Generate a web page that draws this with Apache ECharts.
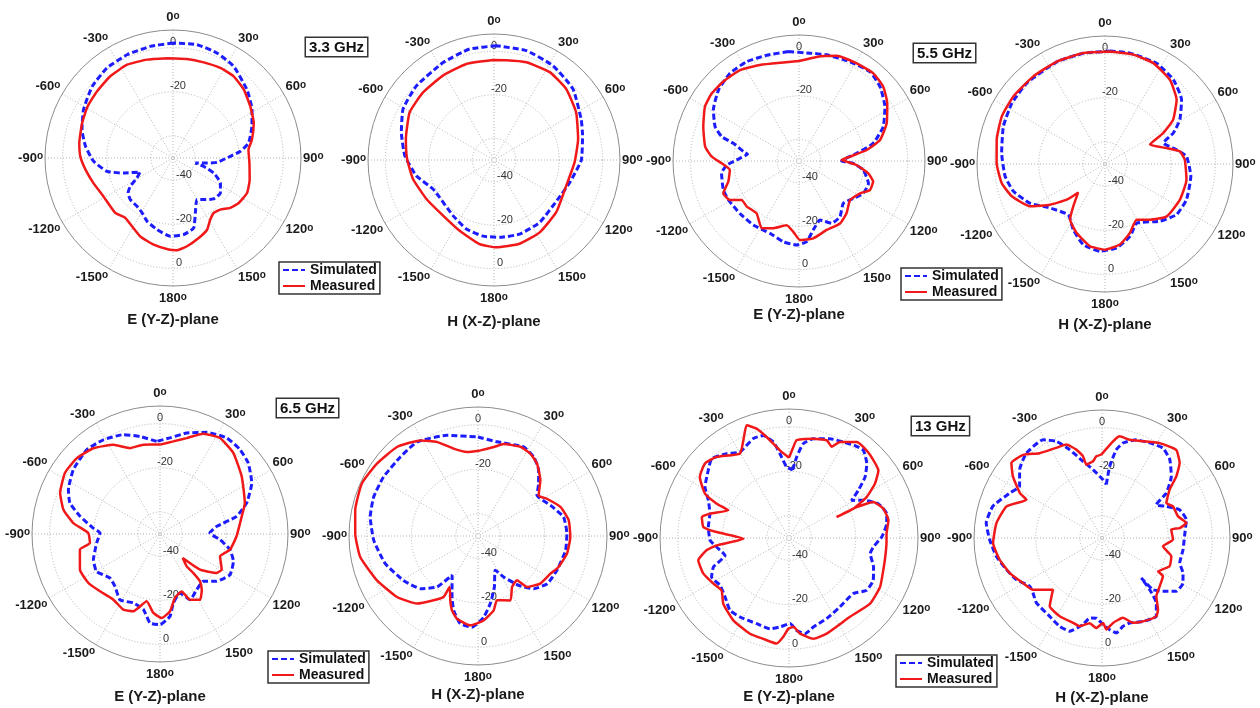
<!DOCTYPE html>
<html>
<head>
<meta charset="utf-8">
<script src="https://cdn.jsdelivr.net/npm/echarts@6/dist/echarts.min.js"></script>
<style>
  html, body { margin: 0; padding: 0; background: #fff; }
  #chart { width: 1260px; height: 708px; }
</style>
</head>
<body>
<div id="chart"></div>
<script>
// Radiation patterns: [angle in degrees, gain in dB], traced in drawing order.
const e33Sim = [[0,2.1],[-11.5,1.6],[-24,1.2],[-36.3,0.6],[-48.5,-1.1],[-61.6,-3.9],[-72.7,-6.8],[-82.4,-10],[-92.4,-14],[-101.4,-19.5],[-107,-26.6],[-113,-33.8],[-119,-31.3],[-123.6,-26.7],[-127.9,-24.2],[-134.3,-23],[-143.3,-22.7],[-150.6,-21.5],[-157.7,-19],[-167.4,-16.8],[-178,-14.5],[172,-15],[163.6,-16.9],[157.9,-23.1],[150,-28.3],[143.6,-26.6],[135.2,-23.9],[126.5,-23.3],[117.8,-25.7],[110.2,-30.4],[105.2,-35.7],[102.6,-39.6],[98.4,-34.4],[95.6,-29.9],[88.3,-24],[84.3,-19.3],[78.8,-15.1],[68.2,-11.5],[58.5,-8],[47.3,-4.4],[33.5,-0.2],[22.7,1.6],[12,2.5]];
const e33Meas = [[-3.4,-4.7],[-14.8,-3.9],[-26.2,-2.9],[-37.5,-3.3],[-48.7,-4.2],[-58.8,-4.8],[-69,-5.9],[-80.9,-7],[-89,-8],[-97.6,-10],[-107.5,-12.2],[-118.9,-14],[-133.6,-13.9],[-141.5,-15.3],[-149,-13.9],[-157.4,-11.5],[-167.4,-9.8],[-177.3,-8.5],[177.5,-8.2],[171,-9.5],[162.2,-11.9],[154.6,-14],[148.8,-17.4],[143.5,-19],[137.5,-18.3],[131.1,-15.6],[124.4,-13.9],[115.3,-12.9],[105.8,-13.9],[93.7,-15.3],[83.7,-15.6],[77,-13.3],[66.5,-10.1],[56.3,-7.9],[46,-5.4],[36.6,-3.9],[27.7,-3.9],[17.8,-4.5],[8,-4.7]];

const h33Sim = [[1.2,2.6],[-12.4,2.3],[-27.6,0.6],[-46.3,-0.6],[-60.7,-2],[-73.4,-5.5],[-87.2,-8.9],[-101.4,-13.5],[-115.4,-18.9],[-124.5,-19.6],[-143.6,-18.2],[-158.1,-15.8],[-171.8,-14.6],[175.8,-14.3],[160.9,-13.9],[143.8,-14.4],[121.4,-15.5],[106.4,-13.6],[90,-9.8],[74,-7.6],[64.9,-5.7],[48,-1.1],[32,1.2],[16.5,2.5]];
const h33Meas = [[-0.6,-4],[-16.1,-4],[-31.2,-4.6],[-46.4,-4.9],[-60.5,-5.4],[-76.6,-8.3],[-89.3,-10],[-103.2,-11.7],[-120,-14.1],[-137.5,-15.3],[-154.1,-13.8],[-170.3,-10.7],[178.5,-9.8],[163,-9.7],[147.7,-10.6],[130,-12.6],[109.5,-14.7],[91.7,-12.9],[76,-10.1],[59.9,-6.3],[45.5,-3.4],[32.4,-2.1],[18.3,-2.6],[7,-3.7]];

const e55Sim = [[-5.6,0.6],[-17,0.9],[-27.8,1.7],[-38.2,1.4],[-48.6,-0.6],[-59.2,-4.1],[-67.8,-8.3],[-72.5,-12.7],[-74.9,-18.7],[-80.5,-24.1],[-82.3,-26.1],[-89,-21.3],[-93.2,-16.7],[-99,-13.9],[-111,-12.7],[-118.9,-12.9],[-131.6,-13.6],[-144.5,-13.8],[-158.2,-14.1],[-169,-12.1],[-178.4,-11.3],[174.6,-12.7],[168.3,-17.6],[160.4,-21.2],[152.3,-17.6],[143.6,-18.2],[133.7,-21.8],[124.5,-19.6],[116.7,-16.9],[107.9,-16.4],[98,-20.1],[92.5,-25],[90,-30.4],[82.4,-23.2],[76.6,-14.9],[67.8,-8.1],[57.7,-3.2],[47.5,0.6],[38.5,2.5],[27.2,1.4],[14.6,0.5],[5.8,-0.1]];
const e55Meas = [[0,-4],[-9,-4.1],[-22.1,-2.3],[-33,-0.1],[-43.6,0.5],[-52.2,0.8],[-60,0],[-70.3,-3.2],[-81.3,-6.3],[-87.2,-9.8],[-91.7,-14.4],[-97.4,-17.9],[-106.3,-16.1],[-113.1,-12.1],[-119.5,-13.5],[-124.2,-18.1],[-131.1,-18.1],[-141,-19],[-151,-14.6],[-159.1,-16.9],[-169.1,-19.9],[-175.4,-17.3],[179.3,-13.6],[169.5,-13.8],[158.1,-15.8],[146.7,-15.6],[137.7,-17.5],[127.4,-20.4],[117.9,-18.2],[112.2,-14.7],[105.5,-14.6],[100.1,-17.6],[94,-23.5],[90.8,-28.1],[88.7,-30.4],[85.1,-26.4],[80.8,-18.4],[75.5,-11.5],[66.8,-6.1],[56.9,-1.5],[48.6,1.7],[40.3,2.9],[30.6,2.2],[19.7,1.4],[9.6,-1.4]];

const h55Sim = [[2.5,1.2],[12.7,1.5],[27.1,1.3],[39,-0.8],[50,-4.7],[59.4,-10.6],[65.6,-16],[70.2,-21.9],[78.7,-16.9],[84.6,-12.9],[98.2,-10.7],[113.6,-9.7],[125.3,-10.3],[136.2,-14.1],[151.8,-19.6],[160.9,-15.3],[172.1,-11.6],[-176.7,-10.4],[-165,-12.1],[-154.3,-16.9],[-144.1,-21.6],[-128.7,-18.1],[-117.5,-11.6],[-106.6,-6.7],[-97,-4.4],[-83.9,-2.9],[-69.7,-0.9],[-56.8,0.4],[-44,1],[-25,1.2],[-11,1.1]];
const h55Meas = [[2.5,1],[-11,1.2],[-25.2,1.3],[-39.3,1.3],[-53.6,1.6],[-65.2,1.5],[-77.3,0.3],[-89.5,-0.9],[-100.4,-2.4],[-109.1,-5.3],[-119.4,-11],[-126.5,-19],[-132.9,-26.3],[-136.7,-32.3],[-143.2,-26],[-147.8,-20.3],[-157.7,-16.2],[-169.7,-12.1],[180,-11.2],[169.5,-12.9],[160.1,-16.8],[150.4,-21],[141,-17.5],[130.3,-13.3],[115.4,-12.4],[100.9,-12.4],[86.9,-13.8],[80.4,-15.6],[75.5,-21.2],[66.7,-27.8],[62,-20.1],[57,-13.2],[48.1,-6.4],[37.6,-1.8],[25.6,0.7],[14.5,1.2]];

const e65Sim = [[-2.1,-8],[-11.6,-4.9],[-20.3,-2],[-31,-0.2],[-41,0.6],[-53.4,-1.1],[-64.2,-3.9],[-71,-6.8],[-77.5,-12.9],[-84.9,-19.6],[-89,-22.8],[-98.1,-21],[-111,-17.7],[-120.5,-16.6],[-131.3,-19.8],[-139.3,-18.7],[-148.7,-15.1],[-158.9,-16.5],[-167.6,-15],[-173.6,-9.4],[180,-8.9],[173.1,-12.4],[169.1,-18.1],[161.3,-21.8],[155.4,-17.2],[146.6,-19.8],[137.5,-20.9],[129.9,-16.6],[120.2,-13.3],[110.4,-14.5],[102.6,-17.5],[95.4,-22.7],[88.9,-27.4],[82.3,-24],[77,-14.4],[70.3,-8.3],[60.9,-2.4],[51.2,1.3],[43.5,2.7],[34.8,3],[24.7,0.7],[14.8,-2.7],[5.9,-6.2]];
const e65Meas = [[0,-9.5],[8.2,-7.6],[15.5,-4.9],[23.4,-0.5],[32,1.3],[42.2,-0.5],[54.8,-4.7],[70,-9.1],[77.8,-12.1],[91.7,-15.3],[102.6,-17.5],[110.4,-21],[120,-17.7],[124.5,-18.9],[131.7,-25.7],[136.6,-35],[140.5,-31],[139.5,-26.7],[139.8,-21.9],[143.2,-18.4],[148.7,-15.1],[155.4,-17.2],[159.3,-22.2],[166.8,-20.3],[172.6,-14.7],[178.9,-11.9],[-175.2,-14.1],[-168.8,-18.9],[-161,-13],[-154.1,-11.9],[-144.6,-13.5],[-133.7,-12.4],[-124.4,-10.7],[-114,-10.3],[-101.1,-13],[-97.3,-18],[-89.2,-17.5],[-82.8,-10.4],[-75.9,-4.9],[-67.7,-1.1],[-57.3,1.2],[-47.6,1],[-37.8,-0.8],[-27.6,-4.4],[-19.2,-8.8],[-10.6,-8.8]];

const h65Sim = [[0,-5.5],[11.4,-6.8],[27.2,-5],[35.2,-6.5],[42.7,-9.8],[49.2,-14],[55.4,-17.8],[67,-14.6],[77.5,-10.6],[88.5,-10],[99.3,-10.1],[113.5,-11.3],[124.6,-12.2],[133.4,-15.5],[140.5,-21.2],[148,-28.3],[153.2,-32.8],[162.2,-25.9],[169.7,-19.1],[176,-13.4],[-176.2,-8.9],[-168.6,-9.8],[-161.9,-14.8],[-156.9,-20.2],[-146.5,-28.9],[-141.2,-20.6],[-132.4,-14.9],[-120.8,-11],[-106.6,-6.5],[-92.4,-3.1],[-80,-0.8],[-69.5,0.1],[-58,0.1],[-44.5,-0.2],[-33,0.4],[-17.1,-2.6]];
const h65Meas = [[1.6,-11.5],[10,-9.4],[15.6,-7.1],[25.4,-5.6],[32.4,-6.1],[39.2,-8],[48.2,-12.4],[56.2,-17.2],[61.6,-14.8],[70.6,-10.7],[80.2,-8.6],[90.6,-8.5],[101.2,-9.2],[111,-11.2],[117.5,-13.3],[127.4,-14.8],[136.1,-18.2],[138.7,-23.5],[146.3,-22.4],[153.3,-17.6],[163.5,-19.9],[168.1,-15.8],[176.2,-11.9],[-175.1,-9.7],[-165.7,-11.6],[-160.7,-14.6],[-156.7,-18.5],[-150.9,-23.8],[-150.6,-18.5],[-145.4,-14.9],[-138,-9.1],[-127,-4.4],[-113.7,-0.4],[-100.1,3.8],[-88.9,5.2],[-78.2,6.4],[-65.7,7.3],[-54.4,5.9],[-42.3,4.1],[-31.1,0.2],[-23.6,-3.8],[-15.6,-9.2],[-7.5,-11.9]];

const e13Sim = [[3.1,-19.3],[5.4,-13.4],[8.6,-7.1],[13.8,-4],[22.4,-1.7],[29.5,-0.4],[35.2,1],[40.3,1.7],[46.3,-1.6],[51.3,-6.2],[55.5,-12.2],[59,-17.2],[63.1,-12.5],[69,-7],[76,-4.7],[81.7,-5.6],[89.4,-8.3],[96.1,-11.9],[100.9,-12.8],[109,-9.8],[116.7,-7.6],[124,-7.9],[130.9,-11.8],[143.5,-11.5],[155,-10],[164.7,-8.5],[170.5,-6.4],[175.3,-8.3],[179.3,-11.5],[-174.2,-9.8],[-168.2,-8.3],[-159.3,-8.8],[-148.2,-8.2],[-140.8,-8],[-132.7,-10.9],[-124.4,-12.4],[-116.8,-11],[-111,-13.6],[-105.2,-20.2],[-98.6,-17.9],[-91.7,-14.5],[-82.2,-13.4],[-72.9,-12.8],[-65,-10],[-58.7,-5.8],[-50,-2.6],[-44.3,-0.2],[-36.5,-2.8],[-29.7,-5.5],[-19.7,-2.5],[-14,-2.5],[-9.3,-6.2],[-6.1,-11.9],[-1.9,-18.1]];
const e13Meas = [[0,-13.9],[2.7,-9.1],[4.5,-5.9],[13.8,-4],[21.1,-2.9],[25.1,-4.7],[28,-1.1],[35.2,2.8],[41.5,2.6],[47.4,1.6],[52.9,0.4],[57.7,-4.3],[62.2,-10.6],[65.5,-18.2],[66.2,-26.6],[65.4,-16.6],[66.9,-8.8],[72.7,-5.6],[79.9,-4.6],[87.5,-6.1],[93.3,-6.1],[101.2,-5.9],[108.9,-5.2],[118.3,-3.5],[129,-3.1],[142.3,-5.2],[158.5,-3.8],[166.4,-3.4],[173.4,-6.7],[177.2,-10],[-179.6,-9.2],[-176.7,-5.5],[-173.3,-2.2],[-165.7,-3.2],[-157.8,-3.5],[-145.9,-5.3],[-135,-8.2],[-127.9,-11.6],[-121.1,-10.3],[-112.6,-8.3],[-103.8,-8],[-98.5,-12.5],[-95.8,-17.3],[-90.8,-29.5],[-85.3,-17.3],[-82.7,-11.2],[-76.5,-9.7],[-72.9,-12.8],[-65.5,-20],[-64.6,-14],[-62.2,-7.3],[-55.6,-1.4],[-48.5,0.5],[-41.8,-1.1],[-30.2,-6.1],[-25.1,-1.6],[-20.6,4.1],[-16.5,1.3],[-12.5,-3.5],[-5.9,-10.4]];

const h13Sim = [[4.6,-25.7],[6.1,-17.4],[9.2,-9.5],[12.5,-5.9],[19.2,-2.9],[26.6,-1.8],[34.1,-0.8],[40.8,-3],[48.4,-8],[55,-14.4],[58.5,-21.2],[63.8,-17.5],[70,-12.6],[77.7,-10.9],[88.8,-12.6],[98.2,-12.9],[107.8,-13],[113.4,-10],[119.1,-8],[125.7,-8.6],[131.2,-13.3],[135.4,-17.1],[135.5,-24.6],[137.3,-18.1],[140.1,-11.6],[145.3,-6.8],[153.8,-7.9],[162,-9.5],[166.6,-8.9],[171.4,-6.5],[175.2,-8.3],[-179.6,-11.5],[-176,-13.6],[-171.2,-13.3],[-167.6,-9.8],[-160.9,-5.3],[-154.4,-5.6],[-146.3,-7.3],[-134.7,-8.2],[-128.6,-10],[-123.7,-10.6],[-115.9,-6.8],[-108.3,-4.4],[-99.8,-1.4],[-90.9,0.9],[-82.6,2.9],[-73.8,1.5],[-64,-3.5],[-57.9,-5.9],[-50.3,-1.5],[-41.7,1.5],[-31,1.9],[-25.3,-1.5],[-20.1,-7.4],[-13.9,-14.2],[-7.5,-18.7],[1,-23.6]];
const h13Meas = [[-0.5,-12.2],[6.5,-5.9],[9.9,-3.2],[15.7,-3.8],[23,-2.4],[31.3,0.3],[40.1,2.2],[46,-1.1],[50.3,-6.2],[54.5,-12.4],[61.5,-16.8],[66,-14.8],[74.1,-14.2],[79.9,-11.2],[82.7,-14.5],[83.1,-18.4],[91.3,-17.8],[97.8,-22.1],[104.8,-17.5],[112.7,-16.8],[120.8,-20.4],[122.1,-17.4],[130,-15.9],[137,-13.9],[142,-8.8],[145.3,-6.8],[153.8,-7.9],[160,-9.1],[165.3,-12.6],[172.6,-11.2],[177.3,-8.5],[179.3,-11.5],[-176.4,-9.1],[-171.7,-11],[-165.8,-8.8],[-161.2,-9.4],[-151.6,-9.7],[-142.6,-11],[-136.5,-17.7],[-126.8,-10.9],[-119.7,-8.8],[-110.8,-5.3],[-102,-2.6],[-92.6,-0.6],[-81.9,-1.7],[-71.7,-4.4],[-63.1,-11.6],[-61.3,-7.6],[-55.3,-0.9],[-50.4,3.3],[-43.5,1.9],[-36.3,-2.3],[-26.9,-4.2],[-20.9,-4.7],[-16.2,-8.3],[-13.1,-11.9],[-12.1,-16],[-6.7,-15],[-4,-12.9]];

// Axis scale and labels
const radiusMin = -50;
const radiusMax = 8;
const ringValues = [-40, -20, 0];
const upperRingLabels = [-20, 0];
const seriesNames = ['Simulated', 'Measured'];
const freqLabels = ['3.3 GHz', '5.5 GHz', '6.5 GHz', '13 GHz'];

const FONT = '"Liberation Sans", Arial, Helvetica, sans-serif';
const BLUE = '#1c1cff';
const RED = '#f01818';
const GRID = '#b4b4b4';

// One entry per polar plot: placement on the page and which data it shows
const panels = [
  { cx: 173,  cy: 158, r: 128, plane: 'E (Y-Z)-plane', ty: 320, sim: e33Sim, meas: e33Meas },
  { cx: 494,  cy: 160, r: 126, plane: 'H (X-Z)-plane', ty: 322, sim: h33Sim, meas: h33Meas },
  { cx: 799,  cy: 161, r: 126, plane: 'E (Y-Z)-plane', ty: 315, sim: e55Sim, meas: e55Meas },
  { cx: 1105, cy: 164, r: 128, plane: 'H (X-Z)-plane', ty: 325, sim: h55Sim, meas: h55Meas },
  { cx: 160,  cy: 534, r: 128, plane: 'E (Y-Z)-plane', ty: 697, sim: e65Sim, meas: e65Meas },
  { cx: 478,  cy: 536, r: 129, plane: 'H (X-Z)-plane', ty: 695, sim: h65Sim, meas: h65Meas },
  { cx: 789,  cy: 538, r: 129, plane: 'E (Y-Z)-plane', ty: 697, sim: e13Sim, meas: e13Meas },
  { cx: 1102, cy: 538, r: 128, plane: 'H (X-Z)-plane', ty: 698, sim: h13Sim, meas: h13Meas }
];

// Frequency tags and legends (one per frequency pair)
const freqBoxes = [
  { x: 306, y: 38 }, { x: 914, y: 44 }, { x: 277, y: 399 }, { x: 912, y: 417 }
];
const legendBoxes = [
  { x: 279, y: 262 }, { x: 901, y: 268 }, { x: 268, y: 651 }, { x: 896, y: 655 }
];

const closeLoop = pts => pts.concat([pts[0]]).map(p => [p[1], p[0]]);

// Angle labels: a small raised "o" after each number; the top and bottom
// labels get an empty spacer line so they sit a little further from the rim.
// The -180 and 180 ticks share the bottom spoke; only one of them is kept,
// so either one is written as "180".
const labelRich = {
  n: { fontFamily: FONT, fontSize: 13, fontWeight: 'bold', color: '#1a1a1a' },
  o: { fontFamily: FONT, fontSize: 10, fontWeight: 'bold', color: '#1a1a1a', verticalAlign: 'top' },
  gap: { height: 4, fontSize: 4, lineHeight: 4 }
};
const angleFormatter = v => {
  const shown = Math.abs(v) === 180 ? 180 : v;
  const txt = '{n|' + shown + '}{o|o}';
  if (shown === 0) return txt + '\n{gap|}';
  if (shown === 180) return '{gap|}\n' + txt;
  return txt;
};
const ringLabel = (values) => ({
  customValues: values,
  fontFamily: FONT, fontSize: 11, color: '#333',
  margin: 3, align: 'left', verticalAlign: 'bottom'
});

const polar = [], angleAxis = [], radiusAxis = [], series = [], graphic = [];

panels.forEach((p, i) => {
  const main = 2 * i, over = 2 * i + 1;
  polar.push({ center: [p.cx, p.cy], radius: p.r });
  polar.push({ center: [p.cx, p.cy], radius: p.r });

  // 0 deg at the top, clockwise; -180..180 so the left half reads -30, -60 ...
  angleAxis.push({
    polarIndex: main, type: 'value', min: -180, max: 180, interval: 30,
    startAngle: 270, clockwise: true,
    axisLine: { lineStyle: { color: '#8c8c8c', width: 1 } },
    axisTick: { show: false },
    splitLine: { lineStyle: { color: GRID, width: 1, type: [1, 2] } },
    axisLabel: { margin: 2, formatter: angleFormatter, rich: labelRich }
  });
  radiusAxis.push({
    polarIndex: main, type: 'value', min: radiusMin, max: radiusMax,
    axisLine: { show: false },
    axisTick: { show: false, customValues: ringValues },
    splitLine: { show: true, lineStyle: { color: GRID, width: 1, type: [1, 2] } },
    axisLabel: ringLabel(ringValues)
  });
  // overlay carrying the ring labels on the upper spoke
  angleAxis.push({ polarIndex: over, type: 'value', min: 0, max: 360, startAngle: 90, show: false });
  radiusAxis.push({
    polarIndex: over, type: 'value', min: radiusMin, max: radiusMax,
    axisLine: { show: false }, axisTick: { show: false, customValues: upperRingLabels },
    splitLine: { show: false },
    axisLabel: ringLabel(upperRingLabels)
  });

  series.push({
    type: 'line', name: seriesNames[0], coordinateSystem: 'polar', polarIndex: main,
    data: closeLoop(p.sim), symbol: 'none', smooth: 0.15, animation: false, z: 2,
    itemStyle: { color: BLUE },
    lineStyle: { color: BLUE, width: 3, type: [6, 3] }
  });
  series.push({
    type: 'line', name: seriesNames[1], coordinateSystem: 'polar', polarIndex: main,
    data: closeLoop(p.meas), symbol: 'none', smooth: 0.15, animation: false, z: 3,
    itemStyle: { color: RED },
    lineStyle: { color: RED, width: 2.5 }
  });

  graphic.push({
    type: 'text', x: p.cx, y: p.ty,
    style: { text: p.plane, font: 'bold 15px ' + FONT, fill: '#1a1a1a', align: 'center', verticalAlign: 'middle' }
  });
});

freqBoxes.forEach((b, i) => {
  graphic.push({
    type: 'text', x: b.x, y: b.y,
    style: {
      text: freqLabels[i], font: 'bold 15px ' + FONT, fill: '#111',
      align: 'left', verticalAlign: 'top',
      backgroundColor: '#fff', borderColor: '#333', borderWidth: 1.5, padding: [2, 3, 1, 3]
    }
  });
});

// legend keys show only the line sample (no marker)
const legend = legendBoxes.map(b => ({
  data: seriesNames, orient: 'vertical', left: b.x, top: b.y,
  selectedMode: false, itemWidth: 22, itemHeight: 12, itemGap: 2,
  itemStyle: { opacity: 0 },
  padding: [1, 3, 1, 3], borderColor: '#333', borderWidth: 1.5, backgroundColor: '#fff',
  textStyle: { fontFamily: FONT, fontSize: 14, fontWeight: 'bold', color: '#111' }
}));

const chart = echarts.init(document.getElementById('chart'), null, { renderer: 'canvas' });
chart.setOption({
  backgroundColor: '#fff',
  animation: false,
  polar, angleAxis, radiusAxis, series, legend, graphic
});
</script>
</body>
</html>
